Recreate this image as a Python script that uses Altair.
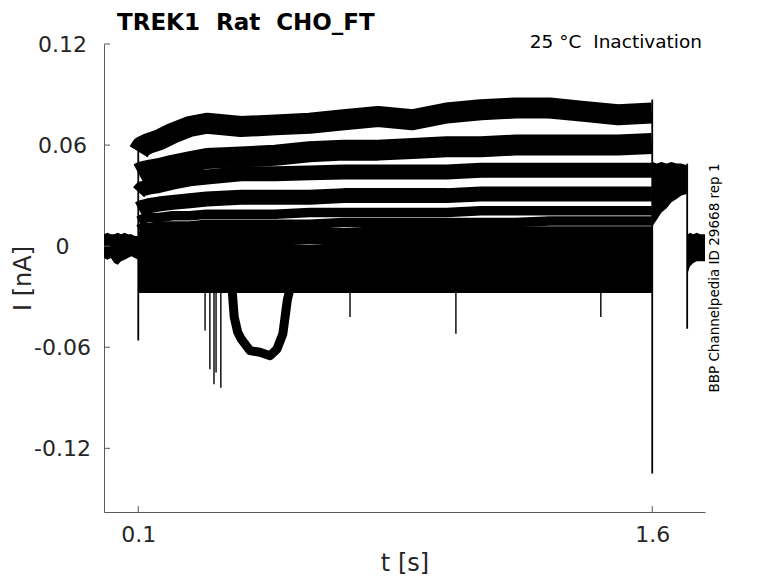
import altair as alt
import pandas as pd

# ---------------- text ----------------
TITLE = "TREK1 \u00a0Rat \u00a0CHO_FT"
ANNOT = "25 \u00b0C \u00a0Inactivation"
SIDE = "BBP Channelpedia ID 29668 rep 1"
XLABEL = "t [s]"
YLABEL = "I [nA]"

XTICKS = [0.1, 1.6]
YTICKS = [-0.12, -0.06, 0, 0.06, 0.12]
XDOMAIN = [0, 1.754]
YDOMAIN = [-0.1578, 0.12]

# ---------------- holding (before step) ----------------
PRE_T = [0, 0.01, 0.02, 0.03, 0.04, 0.05, 0.06, 0.07, 0.08, 0.09, 0.1]
PRE_HI = [0.007, 0.008, 0.007, 0.007, 0.008, 0.007, 0.008, 0.007, 0.007, 0.006, 0.006]
PRE_LO = [-0.007, -0.008, -0.007, -0.010, -0.011, -0.009, -0.008, -0.007, -0.006, -0.007, -0.008]

# ---------------- pre-pulse traces (0.1 .. 1.6 s) ----------------
PULSE_T = [0.101, 0.11, 0.13, 0.16, 0.2, 0.25, 0.3, 0.4, 0.5, 0.6,
           0.7, 0.8, 0.9, 1.0, 1.1, 1.2, 1.3, 1.4, 1.5, 1.599]
trace01 = [0.056, 0.059, 0.061, 0.063, 0.067, 0.071, 0.073, 0.071, 0.072, 0.073,
           0.075, 0.077, 0.075, 0.079, 0.081, 0.082, 0.082, 0.080, 0.078, 0.079]
trace02 = [0.043, 0.044, 0.045, 0.046, 0.048, 0.050, 0.052, 0.053, 0.054, 0.056,
           0.057, 0.057, 0.058, 0.059, 0.059, 0.060, 0.060, 0.060, 0.060, 0.061]
trace03 = [0.032, 0.034, 0.035, 0.036, 0.038, 0.040, 0.041, 0.043, 0.043, 0.0435,
           0.044, 0.044, 0.044, 0.044, 0.045, 0.045, 0.045, 0.045, 0.045, 0.045]
trace04 = [0.022, 0.023, 0.024, 0.025, 0.026, 0.027, 0.028, 0.029, 0.029, 0.029,
           0.030, 0.030, 0.030, 0.030, 0.031, 0.031, 0.031, 0.031, 0.031, 0.031]
trace05 = [0.015, 0.016, 0.017, 0.017, 0.018, 0.018, 0.019, 0.019, 0.019, 0.020,
           0.020, 0.020, 0.020, 0.020, 0.021, 0.021, 0.021, 0.021, 0.021, 0.021]
trace06 = [0.010, 0.011, 0.011, 0.012, 0.012, 0.012, 0.013, 0.013, 0.013, 0.013,
           0.014, 0.014, 0.014, 0.014, 0.014, 0.014, 0.015, 0.015, 0.015, 0.015]
trace07 = [0.006, 0.006, 0.007, 0.007, 0.007, 0.008, 0.008, 0.008, 0.008, 0.008,
           0.008, 0.009, 0.009, 0.009, 0.009, 0.009, 0.009, 0.009, 0.009, 0.009]
trace08 = [0.002, 0.002, 0.002, 0.003, 0.003, 0.003, 0.003, 0.003, 0.003, 0.004,
           0.004, 0.004, 0.004, 0.004, 0.004, 0.004, 0.004, 0.004, 0.004, 0.004]
trace09 = [-0.003, -0.003, -0.003, -0.002, -0.002, -0.002, -0.002, -0.002, -0.002, -0.002,
           -0.001, -0.001, -0.001, -0.001, -0.001, -0.001, -0.001, -0.001, -0.001, -0.001]
trace10 = [-0.007, -0.007, -0.007, -0.007, -0.007, -0.006, -0.006, -0.006, -0.006, -0.006,
           -0.006, -0.006, -0.006, -0.006, -0.006, -0.006, -0.006, -0.006, -0.006, -0.006]
trace11 = [-0.011, -0.011, -0.011, -0.011, -0.011, -0.011, -0.011, -0.011, -0.011, -0.011,
           -0.011, -0.011, -0.011, -0.011, -0.011, -0.011, -0.011, -0.011, -0.011, -0.011]
trace12 = [-0.015, -0.015, -0.015, -0.015, -0.015, -0.015, -0.015, -0.015, -0.015, -0.015,
           -0.015, -0.015, -0.015, -0.015, -0.015, -0.015, -0.015, -0.015, -0.015, -0.015]
trace13 = [-0.020, -0.020, -0.020, -0.020, -0.020, -0.020, -0.020, -0.020, -0.020, -0.020,
           -0.020, -0.020, -0.020, -0.020, -0.020, -0.020, -0.020, -0.020, -0.020, -0.020]
trace14 = [-0.025, -0.025, -0.025, -0.025, -0.025, -0.025, -0.025, -0.025, -0.025, -0.025,
           -0.025, -0.025, -0.025, -0.025, -0.025, -0.025, -0.025, -0.025, -0.025, -0.025]
TRACES = [trace01, trace02, trace03, trace04, trace05, trace06, trace07,
          trace08, trace09, trace10, trace11, trace12, trace13, trace14]

# transient dip of one sweep
DIP_T = [0.374, 0.380, 0.390, 0.400, 0.426, 0.455, 0.485, 0.505, 0.522, 0.535, 0.542]
DIP_I = [-0.026, -0.042, -0.051, -0.055, -0.062, -0.063, -0.065, -0.061, -0.052, -0.032, -0.026]

# ---------------- test pulse tail (1.6 .. 1.7 s) ----------------
TAIL_T = [1.601, 1.613, 1.627, 1.642, 1.656, 1.671, 1.685, 1.701]
TAIL_HI = [0.050, 0.049, 0.050, 0.049, 0.050, 0.049, 0.049, 0.048]
TAIL_LO = [0.012, 0.0156, 0.020, 0.0225, 0.026, 0.028, 0.030, 0.031]

# ---------------- back to holding (after 1.7 s) ----------------
POST_T = [1.702, 1.705, 1.71, 1.72, 1.73, 1.74, 1.754]
POST_HI = [0.007, 0.007, 0.008, 0.007, 0.008, 0.007, 0.007]
POST_LO = [-0.020, -0.015, -0.012, -0.010, -0.009, -0.009, -0.009]

# ---------------- vertical transitions and spikes ----------------
RULE_T = [0.1, 1.6, 1.702]
RULE_LO = [-0.056, -0.135, -0.049]
RULE_HI = [0.058, 0.087, 0.049]

SPIKE_T = [0.295, 0.309, 0.321, 0.327, 0.341, 0.718, 1.027, 1.450]
SPIKE_LO = [-0.050, -0.073, -0.082, -0.075, -0.084, -0.042, -0.052, -0.042]
SPIKE_HI = [-0.026, -0.026, -0.026, -0.026, -0.026, -0.026, -0.026, -0.026]

# ---------------- data frames ----------------
rows = []
for k, vals in enumerate(TRACES, start=1):
    for t, v in zip(PULSE_T, vals):
        rows.append({"t": t, "i": v, "trace": k})
pulse_df = pd.DataFrame(rows)
pre_df = pd.DataFrame({"t": PRE_T, "lo": PRE_LO, "hi": PRE_HI})
tail_df = pd.DataFrame({"t": TAIL_T, "lo": TAIL_LO, "hi": TAIL_HI})
post_df = pd.DataFrame({"t": POST_T, "lo": POST_LO, "hi": POST_HI})
dip_df = pd.DataFrame({"t": DIP_T, "i": DIP_I})
rule_df = pd.DataFrame({"t": RULE_T, "lo": RULE_LO, "hi": RULE_HI})
spike_df = pd.DataFrame({"t": SPIKE_T, "lo": SPIKE_LO, "hi": SPIKE_HI})
xtick_df = pd.DataFrame({"v": XTICKS})
ytick_df = pd.DataFrame({"v": YTICKS})
annot_df = pd.DataFrame({"label": [ANNOT]})
side_df = pd.DataFrame({"label": [SIDE]})

FONT = "DejaVu Sans"
AXIS_GRAY = "#5a5a5a"
TEXT_GRAY = "#262626"
W, H = 601, 468

xscale = alt.Scale(domain=XDOMAIN, nice=False, zero=False)
yscale = alt.Scale(domain=YDOMAIN, nice=False, zero=False)

xaxis = alt.Axis(values=XTICKS, labelExpr="format(datum.value, '.1f')", title=XLABEL,
                 ticks=False, tickSize=0, grid=False, domainColor=AXIS_GRAY, domainWidth=1,
                 labelFont=FONT, labelFontSize=22, labelColor=TEXT_GRAY, labelPadding=12,
                 labelFlush=False, titleFont=FONT, titleFontSize=24, titleFontWeight="normal",
                 titleColor=TEXT_GRAY, titleY=58, titleBaseline="alphabetic")
yaxis = alt.Axis(values=YTICKS,
                 labelExpr="replace(format(datum.value, '.2~f'), '\u2212', '-')",
                 title=YLABEL, ticks=False, tickSize=0, grid=False,
                 domainColor=AXIS_GRAY, domainWidth=1, labelFont=FONT, labelFontSize=22,
                 labelColor=TEXT_GRAY, labelAlign="center", labelBaseline="middle",
                 labelPadding=42, labelFlush=False, titleFont=FONT, titleFontSize=24,
                 titleFontWeight="normal", titleColor=TEXT_GRAY, titleAngle=270,
                 titleX=-74, titleBaseline="alphabetic")

X = lambda f: alt.X(f, type="quantitative", scale=xscale, axis=xaxis)
Y = lambda f: alt.Y(f, type="quantitative", scale=yscale, axis=yaxis)

pre = alt.Chart(pre_df).mark_area(color="black").encode(x=X("t"), y=Y("lo"), y2="hi")
tail = alt.Chart(tail_df).mark_area(color="black").encode(x=X("t"), y=Y("lo"), y2="hi")
post = alt.Chart(post_df).mark_area(color="black").encode(x=X("t"), y=Y("lo"), y2="hi")

base = alt.Chart(pulse_df).encode(x=X("t"), y=Y("i"), detail="trace:N")
top_tr = base.transform_filter("datum.trace <= 2").mark_line(
    color="black", strokeWidth=21, strokeJoin="round")
mid_tr = base.transform_filter("datum.trace > 2 && datum.trace <= 4").mark_line(
    color="black", strokeWidth=15, strokeJoin="round")
low_tr = base.transform_filter("datum.trace > 4").mark_line(
    color="black", strokeWidth=9.5, strokeJoin="round")

dip = alt.Chart(dip_df).mark_line(color="black", strokeWidth=9, strokeJoin="round").encode(
    x=X("t"), y=Y("i"))

rules = alt.Chart(rule_df).mark_rule(color="black", strokeWidth=1.8).encode(
    x=X("t"), y=Y("lo"), y2="hi")
spikes = alt.Chart(spike_df).mark_rule(color="black", strokeWidth=1.4).encode(
    x=X("t"), y=Y("lo"), y2="hi")

yticks = alt.Chart(ytick_df).mark_rule(color=AXIS_GRAY, strokeWidth=1).encode(
    y=Y("v"), x=alt.value(0), x2=alt.value(6))
xticks = alt.Chart(xtick_df).mark_rule(color=AXIS_GRAY, strokeWidth=1).encode(
    x=X("v"), y=alt.value(H), y2=alt.value(H - 6))

annot = alt.Chart(annot_df).mark_text(
    font=FONT, fontSize=18.5, color="black", align="right", baseline="alphabetic"
).encode(x=alt.value(598), y=alt.value(3.5), text="label:N")

side = alt.Chart(side_df).mark_text(
    font=FONT, fontSize=13.5, color="black", align="center", baseline="alphabetic", angle=270
).encode(x=alt.value(615), y=alt.value(H / 2), text="label:N")

chart = alt.layer(
    pre, low_tr, mid_tr, top_tr, dip, tail, post, rules, spikes, yticks, xticks, annot, side
).properties(
    width=W, height=H,
    title=alt.TitleParams(text=TITLE, anchor="start", frame="group", dx=13, offset=-2,
                          font=FONT, fontSize=23, fontWeight="bold", color="black"),
    padding={"left": 96, "top": 36, "right": 50, "bottom": 66},
    autosize=alt.AutoSizeParams(type="none"),
).configure_view(stroke=None)

chart.save("out.html", embed_options={"renderer": "svg", "actions": False})
